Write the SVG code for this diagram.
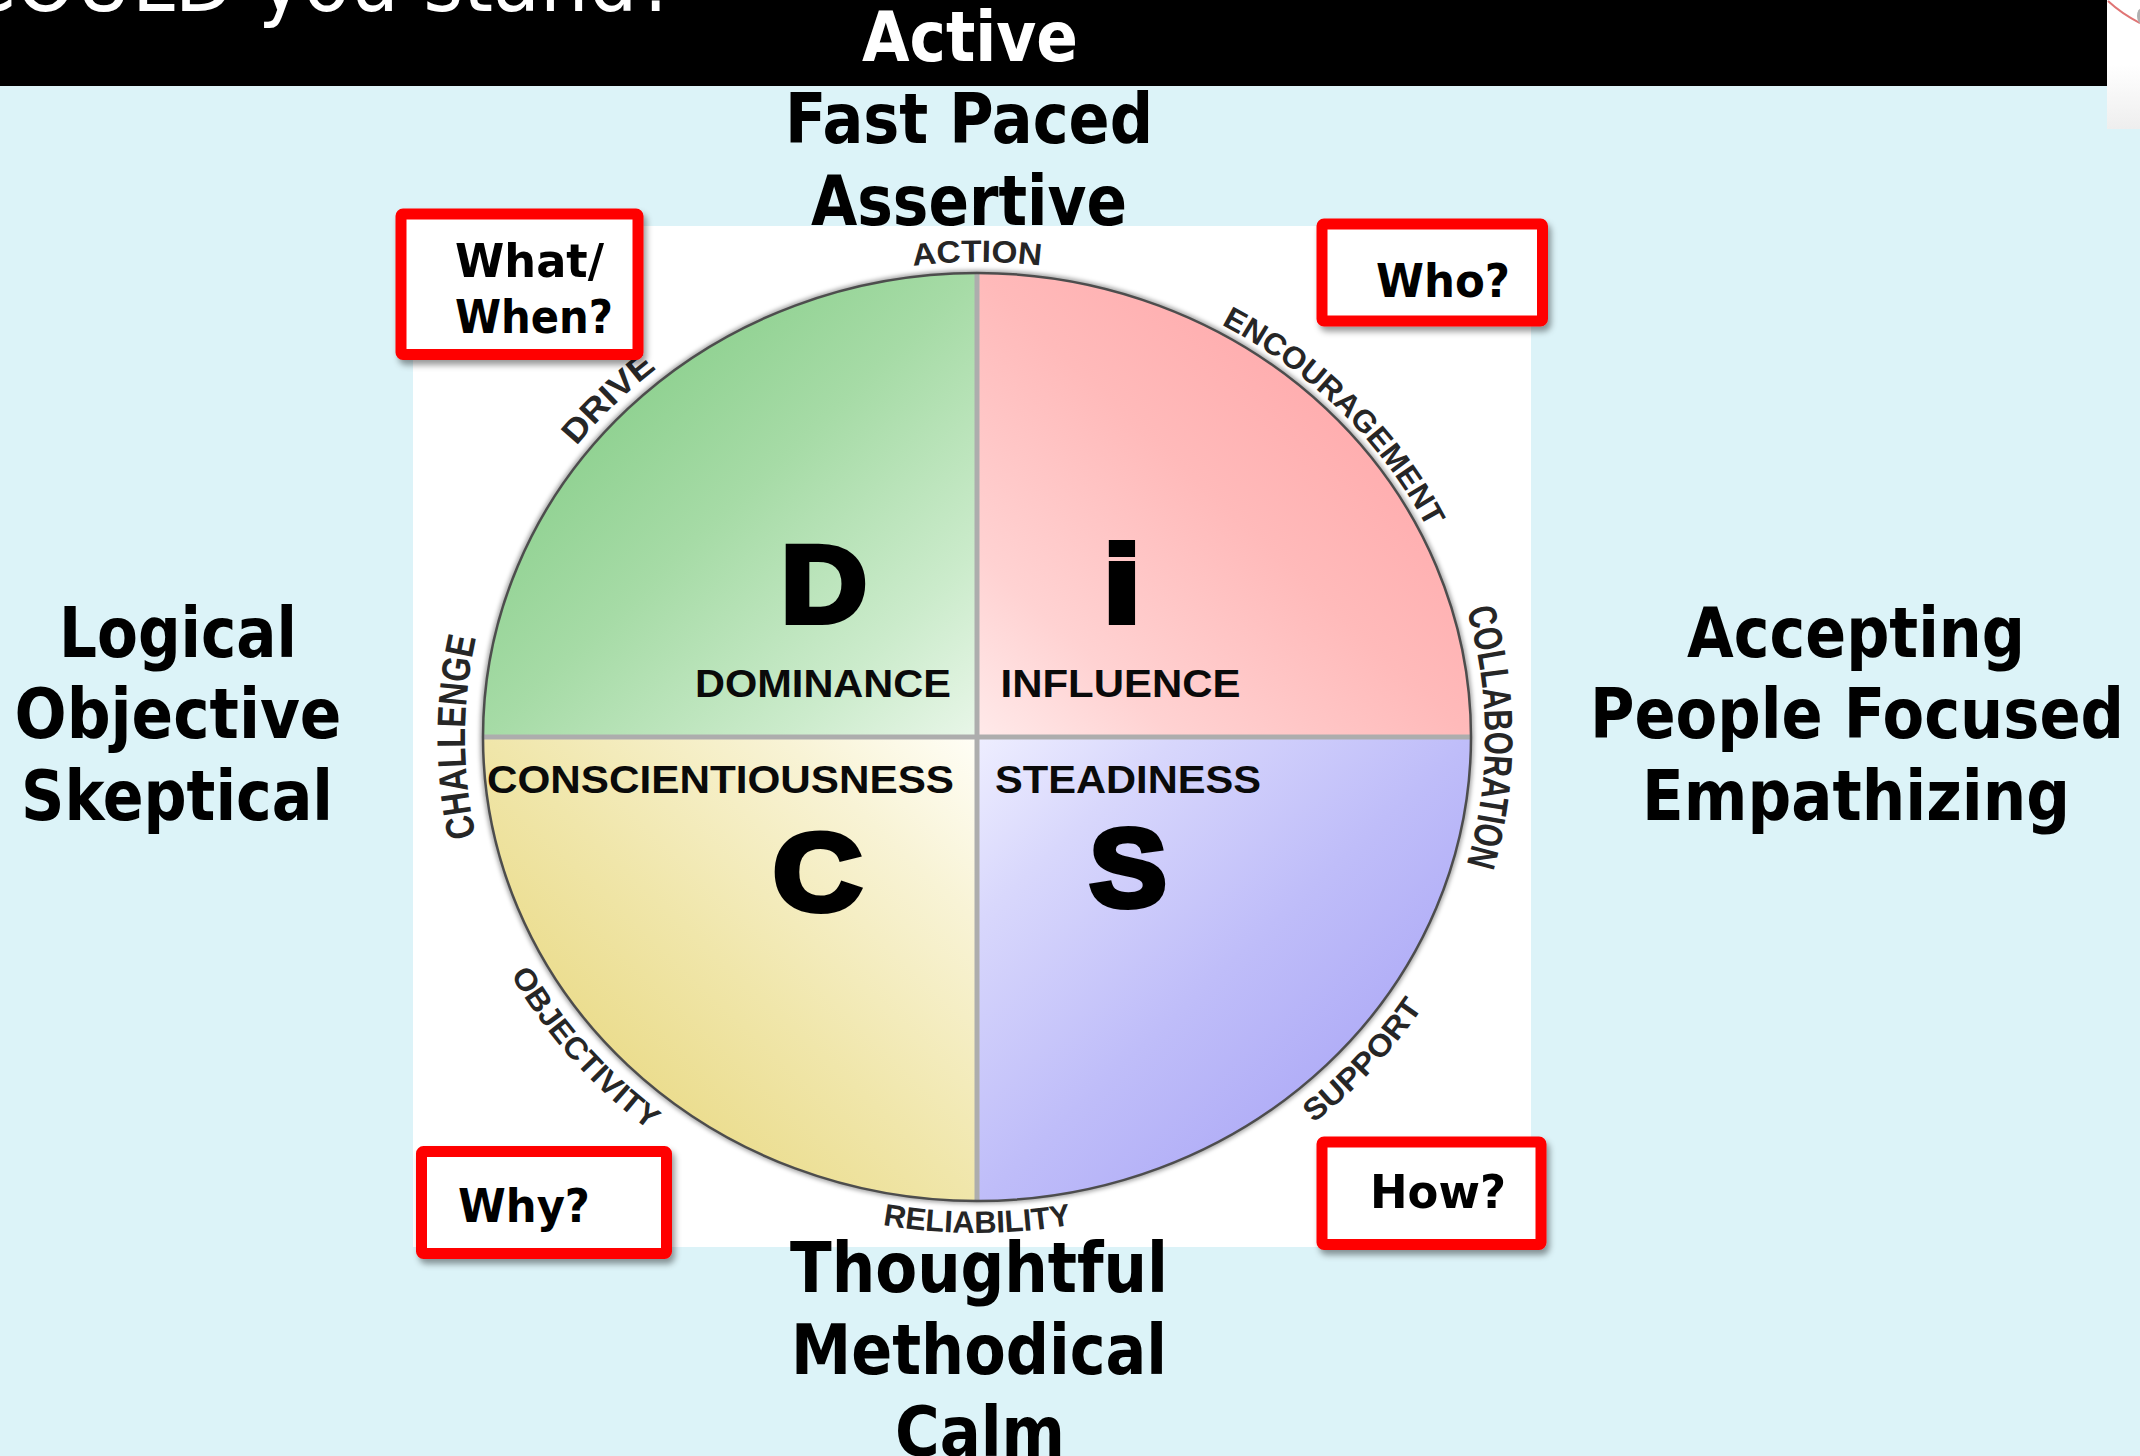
<svg xmlns="http://www.w3.org/2000/svg" width="2140" height="1456" viewBox="0 0 2140 1456">
  <defs>
    <style>
      .hd { font-family: "DejaVu Sans Condensed", "DejaVu Sans", sans-serif; font-weight: bold; font-size: 69px; fill: #000; text-anchor: middle; }
      .qn { font-family: "DejaVu Sans Condensed", "DejaVu Sans", sans-serif; font-weight: bold; font-size: 47px; fill: #000; }
      .ring { font-family: "Liberation Sans", Arial, sans-serif; font-weight: bold; font-size: 31px; fill: #262626; }
      .ringv { font-family: "Liberation Sans", Arial, sans-serif; font-weight: bold; font-size: 40px; fill: #262626; }
      .big { font-family: "Liberation Sans", Arial, sans-serif; font-weight: bold; font-size: 110px; fill: #000; stroke: #000; stroke-width: 6; text-anchor: middle; }
      .quad { font-family: "Liberation Sans", Arial, sans-serif; font-weight: bold; font-size: 39px; fill: #0a0a0a; }
      .box { fill: #fff; stroke: #ff0000; stroke-width: 11; stroke-linejoin: round; filter: url(#shadow); }
    </style>
    <filter id="shadow" x="-20%" y="-20%" width="150%" height="150%">
      <feDropShadow dx="3" dy="5" stdDeviation="3" flood-color="#000" flood-opacity="0.4"/>
    </filter>
    <filter id="soft" x="-5%" y="-5%" width="110%" height="110%">
      <feGaussianBlur stdDeviation="2"/>
    </filter>
    <linearGradient id="gD" x1="0" y1="0" x2="1" y2="1">
      <stop offset="0.2" stop-color="#88ce8a"/>
      <stop offset="0.5" stop-color="#a6dba6"/>
      <stop offset="0.8" stop-color="#cbebcb"/>
      <stop offset="1" stop-color="#e8f6e8"/>
    </linearGradient>
    <linearGradient id="gI" x1="1" y1="0" x2="0" y2="1">
      <stop offset="0.2" stop-color="#ffa9ab"/>
      <stop offset="0.5" stop-color="#ffbaba"/>
      <stop offset="0.8" stop-color="#ffd2d2"/>
      <stop offset="1" stop-color="#ffeaea"/>
    </linearGradient>
    <linearGradient id="gS" x1="1" y1="1" x2="0" y2="0">
      <stop offset="0.2" stop-color="#aca8f6"/>
      <stop offset="0.5" stop-color="#bfbdf9"/>
      <stop offset="0.8" stop-color="#d8d7fc"/>
      <stop offset="1" stop-color="#eeeeff"/>
    </linearGradient>
    <linearGradient id="gC" x1="0" y1="1" x2="1" y2="0">
      <stop offset="0.2" stop-color="#e9d983"/>
      <stop offset="0.5" stop-color="#f0e6aa"/>
      <stop offset="0.8" stop-color="#f8f3d5"/>
      <stop offset="1" stop-color="#fffef6"/>
    </linearGradient>
    <linearGradient id="corner" x1="0" y1="0" x2="0" y2="1">
      <stop offset="0.5" stop-color="#ffffff"/>
      <stop offset="1" stop-color="#eeeeee"/>
    </linearGradient>
    <!-- arcs for the ring words: clockwise ones read with tops outward, counter-clockwise ones with tops inward -->
    <path id="pAction" d="M652.4 373.1 A505 475 0 0 1 1301.6 373.1"/>
    <path id="pEnc" d="M1038.2 268.5 A502 472 0 0 1 1478.3 712.3"/>
    <path id="pCollab" d="M1366.1 429.7 A508 478 0 0 1 1366.1 1044.3"/>
    <path id="pSupport" d="M1059.9 1230.8 A530 500 0 0 0 1506.9 745.7"/>
    <path id="pRely" d="M638.9 1116.9 A526 496 0 0 0 1315.1 1116.9"/>
    <path id="pObj" d="M447 732.6 A530 500 0 0 0 880.4 1228.6"/>
    <path id="pChal" d="M584.8 1046.8 A512 482 0 0 1 584.8 427.2"/>
    <path id="pDrive" d="M471.9 707.9 A506 476 0 0 1 919.7 264.1"/>
  </defs>

  <!-- slide background -->
  <rect x="0" y="0" width="2140" height="1456" fill="#dcf3f8"/>
  <rect x="0" y="0" width="2107" height="86" fill="#000"/>
  <rect x="2107" y="0" width="33" height="129" fill="url(#corner)"/>
  <path d="M2108 1 Q2122 14 2140 23" fill="none" stroke="#e07575" stroke-width="2"/>
  <ellipse cx="2142" cy="16" rx="5" ry="8" fill="#b0b0b0"/>
  <text x="-38" y="11" textLength="716" lengthAdjust="spacingAndGlyphs" font-family="DejaVu Sans Condensed, DejaVu Sans, sans-serif" font-size="84" fill="#fff">COULD you stand?</text>

  <!-- white panel behind the wheel -->
  <rect x="413" y="226" width="1118" height="1021" fill="#fff"/>

  <!-- DISC wheel -->
  <g id="wheel">
    <ellipse cx="977" cy="737" rx="494" ry="464" fill="none" stroke="#000" stroke-opacity="0.35" stroke-width="6" filter="url(#soft)"/>
    <g id="quadrant-d"><path d="M977 737 L483 737 A494 464 0 0 1 977 273 Z" fill="url(#gD)"/></g>
    <g id="quadrant-i"><path d="M977 737 L977 273 A494 464 0 0 1 1471 737 Z" fill="url(#gI)"/></g>
    <g id="quadrant-s"><path d="M977 737 L1471 737 A494 464 0 0 1 977 1201 Z" fill="url(#gS)"/></g>
    <g id="quadrant-c"><path d="M977 737 L977 1201 A494 464 0 0 1 483 737 Z" fill="url(#gC)"/></g>
    <g id="dividers">
      <line x1="977" y1="273" x2="977" y2="1201" stroke="#adadad" stroke-width="5"/>
      <line x1="483" y1="737" x2="1471" y2="737" stroke="#adadad" stroke-width="5"/>
    </g>
    <ellipse cx="977" cy="737" rx="494" ry="464" fill="none" stroke="#4d4d4d" stroke-width="2.5"/>
  </g>

  <!-- words round the ring -->
  <g id="ring-labels">
    <text class="ring"><textPath href="#pAction" startOffset="50%" text-anchor="middle" textLength="128" lengthAdjust="spacingAndGlyphs">ACTION</textPath></text>
    <text class="ring"><textPath href="#pEnc" startOffset="50%" text-anchor="middle" textLength="294" lengthAdjust="spacingAndGlyphs">ENCOURAGEMENT</textPath></text>
    <text class="ringv"><textPath href="#pCollab" startOffset="50%" text-anchor="middle" textLength="258" lengthAdjust="spacingAndGlyphs">COLLABORATION</textPath></text>
    <text class="ring"><textPath href="#pSupport" startOffset="50%" text-anchor="middle" textLength="160" lengthAdjust="spacingAndGlyphs">SUPPORT</textPath></text>
    <text class="ring"><textPath href="#pRely" startOffset="50%" text-anchor="middle" textLength="190" lengthAdjust="spacingAndGlyphs">RELIABILITY</textPath></text>
    <text class="ring"><textPath href="#pObj" startOffset="50%" text-anchor="middle" textLength="210" lengthAdjust="spacingAndGlyphs">OBJECTIVITY</textPath></text>
    <text class="ringv"><textPath href="#pChal" startOffset="50%" text-anchor="middle" textLength="200" lengthAdjust="spacingAndGlyphs">CHALLENGE</textPath></text>
    <text class="ring" style="font-size:33px"><textPath href="#pDrive" startOffset="50%" text-anchor="middle" textLength="112" lengthAdjust="spacingAndGlyphs">DRIVE</textPath></text>
  </g>

  <!-- quadrant letters and names -->
  <g id="node-d">
    <text class="big" x="824" y="622" textLength="86" lengthAdjust="spacingAndGlyphs">D</text>
    <text class="quad" x="695" y="697" textLength="256" lengthAdjust="spacingAndGlyphs">DOMINANCE</text>
  </g>
  <g id="node-i">
    <text class="big" x="1122" y="622" textLength="38" lengthAdjust="spacingAndGlyphs">i</text>
    <text class="quad" x="1000.5" y="697" textLength="240" lengthAdjust="spacingAndGlyphs">INFLUENCE</text>
  </g>
  <g id="node-c">
    <text class="quad" x="487" y="793" textLength="467" lengthAdjust="spacingAndGlyphs">CONSCIENTIOUSNESS</text>
    <text class="big" x="817.5" y="910" textLength="89" lengthAdjust="spacingAndGlyphs">C</text>
  </g>
  <g id="node-s">
    <text class="quad" x="995" y="793" textLength="266" lengthAdjust="spacingAndGlyphs">STEADINESS</text>
    <text class="big" x="1128" y="906" textLength="77" lengthAdjust="spacingAndGlyphs">S</text>
  </g>

  <!-- question boxes -->
  <g id="box-what">
    <rect class="box" x="401" y="214" width="237" height="140.5" rx="2"/>
    <text class="qn" x="455" y="277" textLength="149" lengthAdjust="spacingAndGlyphs">What/</text>
    <text class="qn" x="455" y="333" textLength="158" lengthAdjust="spacingAndGlyphs">When?</text>
  </g>
  <g id="box-who">
    <rect class="box" x="1322" y="224" width="220.5" height="97" rx="2"/>
    <text class="qn" x="1376" y="297" textLength="134" lengthAdjust="spacingAndGlyphs">Who?</text>
  </g>
  <g id="box-why">
    <rect class="box" x="421.5" y="1151.5" width="245" height="102" rx="2"/>
    <text class="qn" x="458" y="1222" textLength="132" lengthAdjust="spacingAndGlyphs">Why?</text>
  </g>
  <g id="box-how">
    <rect class="box" x="1322" y="1142" width="219" height="102.5" rx="2"/>
    <text class="qn" x="1370" y="1208" textLength="136" lengthAdjust="spacingAndGlyphs">How?</text>
  </g>

  <!-- axis descriptors -->
  <g id="axis-top">
    <text class="hd" x="970" y="61" style="fill:#fff" textLength="216" lengthAdjust="spacingAndGlyphs">Active</text>
    <text class="hd" x="969" y="143" textLength="368" lengthAdjust="spacingAndGlyphs">Fast Paced</text>
    <text class="hd" x="969" y="225" textLength="316" lengthAdjust="spacingAndGlyphs">Assertive</text>
  </g>
  <g id="axis-left">
    <text class="hd" x="178" y="657" textLength="238" lengthAdjust="spacingAndGlyphs">Logical</text>
    <text class="hd" x="178" y="738" textLength="327" lengthAdjust="spacingAndGlyphs">Objective</text>
    <text class="hd" x="177" y="820" textLength="312" lengthAdjust="spacingAndGlyphs">Skeptical</text>
  </g>
  <g id="axis-right">
    <text class="hd" x="1856" y="657" textLength="338" lengthAdjust="spacingAndGlyphs">Accepting</text>
    <text class="hd" x="1857" y="738" textLength="534" lengthAdjust="spacingAndGlyphs">People Focused</text>
    <text class="hd" x="1856" y="820" textLength="428" lengthAdjust="spacingAndGlyphs">Empathizing</text>
  </g>
  <g id="axis-bottom">
    <text class="hd" x="979" y="1292" textLength="378" lengthAdjust="spacingAndGlyphs">Thoughtful</text>
    <text class="hd" x="979" y="1374" textLength="376" lengthAdjust="spacingAndGlyphs">Methodical</text>
    <text class="hd" x="980" y="1456" textLength="170" lengthAdjust="spacingAndGlyphs">Calm</text>
  </g>
</svg>
